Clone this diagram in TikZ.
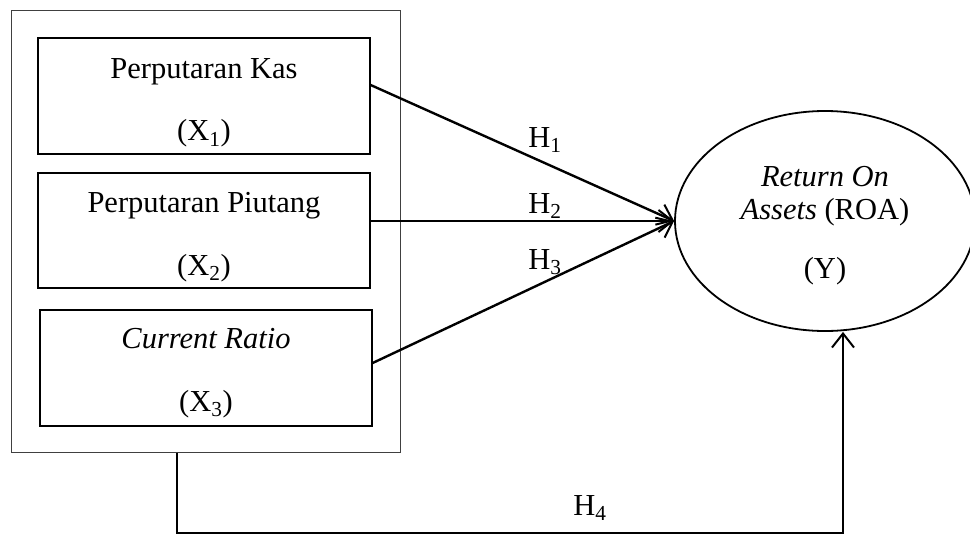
\documentclass[tikz,border=0pt]{standalone}
\usepackage{fontspec}
\setmainfont{Liberation Serif}
\usetikzlibrary{shapes.geometric,arrows.meta}
\newcommand{\upstrut}{\rule{0pt}{33pt}}
\begin{document}
\begin{tikzpicture}[x=1pt,y=-1pt,
  varbox/.style={draw=black,line width=1.3pt,minimum width=332pt,minimum height=116pt,align=center,inner sep=0pt,font=\fontsize{30.5}{30.5}\selectfont},
  grpbox/.style={draw=black!75,line width=1pt,minimum width=389pt,minimum height=442pt,inner sep=0pt},
  arr/.style={line width=2.4pt,-{Straight Barb[length=14pt,width=22pt,line width=2pt]}},
  hlab/.style={font=\fontsize{30.5}{30.5}\selectfont,inner sep=0pt}]
\useasboundingbox (0,0) rectangle (970,536);
\node[grpbox] (grp) at (205.5,231) {};
\node[varbox] (b1) at (204,96) {\upstrut Perputaran Kas\\[32pt](X\textsubscript{1})};
\node[varbox,minimum height=115pt] (b2) at (204,230.5) {\upstrut Perputaran Piutang\\[32pt](X\textsubscript{2})};
\node[varbox] (b3) at (206,368) {\rule{0pt}{30pt}\textit{Current Ratio}\\[32pt](X\textsubscript{3})};
\node[draw=black,line width=1.8pt,ellipse,minimum width=300pt,minimum height=220pt,inner sep=0pt,align=center,font=\fontsize{30.5}{33}\selectfont] (Y) at (825,221) {\rule{0pt}{30pt}\textit{Return On}\\\textit{Assets} (ROA)\\[26pt](Y)};
\draw[arr] ([yshift=11pt]b1.east) -- (Y.west);
\draw[arr] ([yshift=9.5pt]b2.east) -- (Y.west);
\draw[arr] ([yshift=5pt]b3.east) -- (Y.west);
\coordinate (c1) at (177,533);
\coordinate (c2) at (843,533);
\draw[arr] (grp.south -| c1) -- (c1) -- (c2) -- (Y.south -| c2);
\node[hlab] (h1) at (545,140) {H\textsubscript{1}};
\node[hlab] (h2) at (545,206) {H\textsubscript{2}};
\node[hlab] (h3) at (545,262) {H\textsubscript{3}};
\node[hlab] (h4) at (590,508) {H\textsubscript{4}};
\end{tikzpicture}
\end{document}
